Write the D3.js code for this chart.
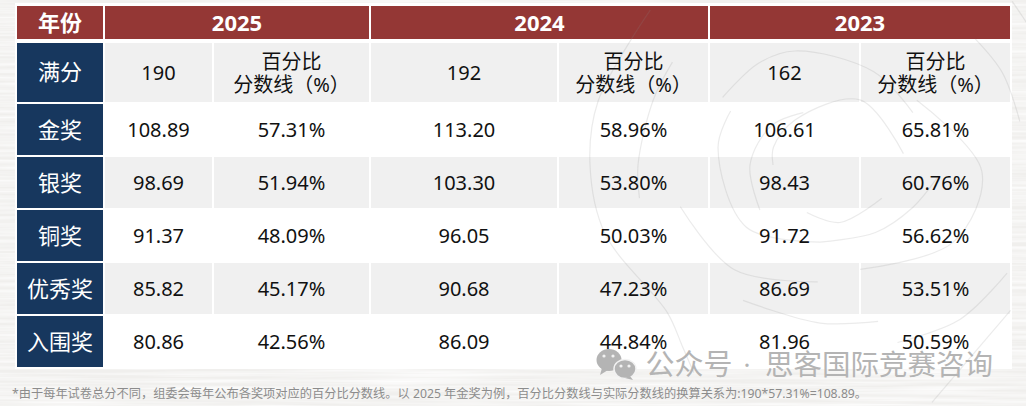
<!DOCTYPE html>
<html lang="zh">
<head>
<meta charset="utf-8">
<title>分数线</title>
<script src="https://cdn.jsdelivr.net/npm/d3@7"></script>
<style>
    html, body { margin: 0; padding: 0; background: #f6f5f3; overflow: hidden; }
    svg { display: block; }
    text { font-family: "Noto Sans", "Noto Sans CJK SC", sans-serif; text-anchor: middle; }
</style>
</head>
<body>
<div id="chart"></div>
<script>
const years = ['2025', '2024', '2023'];
const awards = ['金奖', '银奖', '铜奖', '优秀奖', '入围奖'];
const fullMarks = [190, 192, 162];
const scores2025 = [108.89, 98.69, 91.37, 85.82, 80.86];
const percents2025 = [57.31, 51.94, 48.09, 45.17, 42.56];
const scores2024 = [113.20, 103.30, 96.05, 90.68, 86.09];
const percents2024 = [58.96, 53.80, 50.03, 47.23, 44.84];
const scores2023 = [106.61, 98.43, 91.72, 86.69, 81.96];
const percents2023 = [65.81, 60.76, 56.62, 53.51, 50.59];
const cornerLabel = '年份';
const fullMarksLabel = '满分';
const percentHeading = ['百分比', '分数线（%）'];
const footnote = '*由于每年试卷总分不同，组委会每年公布各奖项对应的百分比分数线。以 2025 年金奖为例，百分比分数线与实际分数线的换算关系为:190*57.31%=108.89。';
const watermarkParts = ['公众号', '·', '思客国际竞赛咨询'];

const scoreColumns = [scores2025, scores2024, scores2023];
const percentColumns = [percents2025, percents2024, percents2023];

const width = 1026;
const height = 406;
const navy = '#17375e';
const red = '#943735';
const stripe = '#f0f0f0';
const ink = '#111';

// left edge, right edge of each data column
const columnEdges = [[105, 212], [214, 369], [371, 557], [559, 708], [710, 859], [861, 1010]];
const labelColumn = [17, 103];
const headerRow = [6, 39];
const fullMarksRow = [43, 102];

const svg = d3.select('#chart').append('svg')
    .attr('width', width)
    .attr('height', height);

const y = d3.scaleBand()
    .domain(awards)
    .range([103, 368])
    .paddingInner(2 / 53)
    .paddingOuter(1 / 53);

drawBackground();
drawCells();
drawSwirl();
drawTexts();
drawWatermark();

function drawBackground() {
    const filter = svg.append('defs').append('filter')
        .attr('id', 'paper')
        .attr('x', 0).attr('y', 0).attr('width', '100%').attr('height', '100%');
    filter.append('feTurbulence')
        .attr('type', 'fractalNoise')
        .attr('baseFrequency', '0.006 0.3')
        .attr('numOctaves', 3)
        .attr('seed', 4);
    filter.append('feColorMatrix')
        .attr('type', 'matrix')
        .attr('values', '0 0 0 0 1  0 0 0 0 1  0 0 0 0 1  0 0 0 1.6 -0.5');

    svg.append('rect')
        .attr('width', width).attr('height', height)
        .attr('fill', '#f0efed');
    svg.append('rect')
        .attr('width', width).attr('height', height)
        .attr('fill', '#fff')
        .attr('filter', 'url(#paper)');

    // white backing, shows through as the gaps between cells
    svg.append('rect')
        .attr('x', 15).attr('y', 3)
        .attr('width', 997).attr('height', 366)
        .attr('fill', '#fff');
}

function addCell(x0, x1, y0, y1, fill) {
    svg.append('rect')
        .attr('x', x0).attr('y', y0)
        .attr('width', x1 - x0).attr('height', y1 - y0)
        .attr('fill', fill);
}

function drawCells() {
    addCell(labelColumn[0], labelColumn[1], headerRow[0], headerRow[1], red);
    years.forEach((year, i) => {
        addCell(columnEdges[i * 2][0], columnEdges[i * 2 + 1][1], headerRow[0], headerRow[1], red);
    });

    addCell(labelColumn[0], labelColumn[1], fullMarksRow[0], fullMarksRow[1], navy);
    columnEdges.forEach(edge => addCell(edge[0], edge[1], fullMarksRow[0], fullMarksRow[1], stripe));

    awards.forEach((award, i) => {
        const y0 = y(award);
        const y1 = y0 + y.bandwidth();
        addCell(labelColumn[0], labelColumn[1], y0, y1, navy);
        if (i % 2 === 1) {
            columnEdges.forEach(edge => addCell(edge[0], edge[1], y0, y1, stripe));
        }
    });
}

// faint spiral ornament behind the numbers, each piece a list of [degrees clockwise from top, radius]
function drawSwirl() {
    const centre = [795, 165];
    const pieces = [
        [[206, 231], [212, 213], [221, 195], [250, 202], [270, 205], [288, 207], [317, 212]],
        [[258, 159], [270, 157], [295, 156], [310, 160]],
        [[313, 99], [340, 108], [360, 114], [400, 122], [426, 129]],
        [[169, 119], [210, 121], [250, 122]],
        [[162, 81], [218, 79], [283, 79], [310, 84]],
        [[218, 57], [270, 45], [330, 46], [369, 53]],
        [[270, 22], [310, 28], [360, 45], [405, 92], [444, 109]],
        [[111, 93], [142, 73], [166, 49]],
        [[62, 138], [92, 187], [116, 176], [148, 123]],
        [[95, 143], [110, 125], [130, 105], [162, 81]],
        [[117, 238], [133, 226], [150, 205]],
        [[124, 260], [150, 274]],
        [[201, 145], [171, 160], [152, 177]],
        [[55, 220], [66, 227], [79, 229]],
        [[53, 272], [59, 272]]
    ];
    const line = d3.lineRadial()
        .angle(d => d[0] * Math.PI / 180)
        .radius(d => d[1])
        .curve(d3.curveCatmullRom);
    svg.append('g')
        .attr('transform', 'translate(' + centre[0] + ', ' + centre[1] + ')')
        .selectAll('path')
        .data(pieces)
        .join('path')
        .attr('d', line)
        .attr('fill', 'none')
        .attr('stroke', '#888')
        .attr('stroke-opacity', 0.17)
        .attr('stroke-width', 1.2);
}

function addText(cx, cy, str, size, fill, weight) {
    return svg.append('text')
        .attr('x', cx).attr('y', cy)
        .attr('dy', '0.36em')
        .attr('font-size', size)
        .attr('font-weight', weight || 400)
        .attr('fill', fill)
        .text(str);
}

function drawTexts() {
    const mid = a => (a[0] + a[1]) / 2;
    const fmt = d3.format('.2f');

    addText(mid(labelColumn), mid(headerRow) + 1, cornerLabel, 22, '#fff', 700);
    addText(mid(labelColumn), mid(fullMarksRow), fullMarksLabel, 22, '#fff');
    awards.forEach(award => {
        addText(mid(labelColumn), y(award) + y.bandwidth() / 2 + 1, award, 22, '#fff');
    });

    years.forEach((year, i) => {
        const scoreEdge = columnEdges[i * 2];
        const percentEdge = columnEdges[i * 2 + 1];
        addText((scoreEdge[0] + percentEdge[1]) / 2, mid(headerRow) + 1, year, 22, '#fff', 700);
        addText(mid(scoreEdge), mid(fullMarksRow), fullMarks[i], 20, ink);
        addText(mid(percentEdge), mid(fullMarksRow) - 10.5, percentHeading[0], 20, ink);
        addText(mid(percentEdge), mid(fullMarksRow) + 12.5, percentHeading[1], 20, ink);
        awards.forEach((award, r) => {
            const cy = y(award) + y.bandwidth() / 2 + 0.5;
            addText(mid(scoreEdge), cy, fmt(scoreColumns[i][r]), 20, ink);
            addText(mid(percentEdge), cy, fmt(percentColumns[i][r]) + '%', 20, ink);
        });
    });

    addText(12, 394, footnote, 12.23, '#8c8c8c').style('text-anchor', 'start');
}

function drawWatermark() {
    const grey = '#b4b4b4';
    const mark = svg.append('g').attr('fill', grey);
    mark.append('ellipse').attr('cx', 609).attr('cy', 360).attr('rx', 12.5).attr('ry', 11);
    mark.append('path').attr('d', 'M602 368 L600 375 L608 370 Z');
    mark.append('ellipse').attr('cx', 625).attr('cy', 369).attr('rx', 11).attr('ry', 9.5)
        .attr('stroke', '#f2f2f2').attr('stroke-width', 1.5);
    mark.append('path').attr('d', 'M630 376 L633 380 L625 378 Z');
    [[604, 356], [613, 356], [621, 366], [629, 366]].forEach(p => {
        mark.append('circle').attr('cx', p[0]).attr('cy', p[1]).attr('r', 1.6).attr('fill', '#f2f2f2');
    });

    addText(689, 365, watermarkParts[0], 29, grey);
    addText(747, 365, watermarkParts[1], 26, grey);
    addText(879, 365, watermarkParts[2], 28.5, grey);
}
</script>
</body>
</html>
